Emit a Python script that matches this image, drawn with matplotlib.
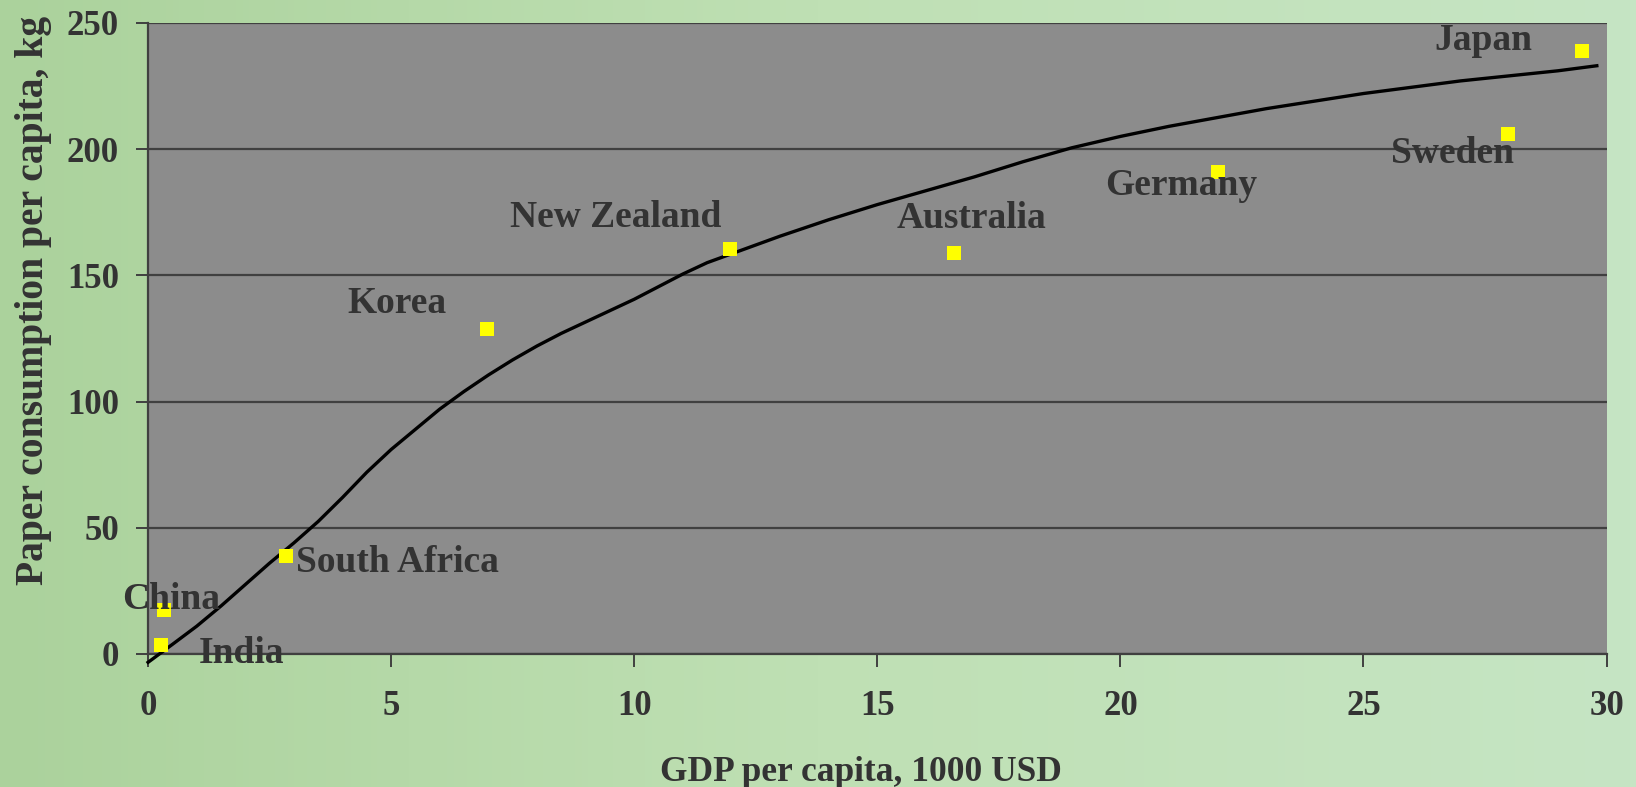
import numpy as np
import matplotlib.pyplot as plt
from matplotlib.colors import LinearSegmentedColormap

# country points: GDP per capita (1000 USD), paper consumption (kg)
countries = ["China", "India", "South Africa", "Korea", "New Zealand",
             "Australia", "Germany", "Sweden", "Japan"]
gdp = [0.32, 0.26, 2.83, 6.97, 11.97, 16.57, 22.0, 27.98, 29.49]
paper = [17.4, 3.7, 38.8, 128.9, 160.3, 158.7, 190.9, 205.8, 238.8]

# trend curve
trend_x = [0.0, 0.5, 1.0, 1.5, 2.0, 2.5, 3.0, 3.5, 4.0, 4.5, 5.0, 5.5, 6.0,
           6.5, 7.0, 7.5, 8.0, 8.5, 9.0, 9.5, 10.0, 10.5, 11.0, 11.5, 12.0,
           13.0, 14.0, 15.0, 16.0, 17.0, 18.0, 19.0, 20.0, 21.0, 22.0, 23.0,
           24.0, 25.0, 26.0, 27.0, 28.0, 29.0, 29.8]
trend_y = [-3.3, 3.8, 11.0, 19.0, 27.5, 36.0, 44.0, 52.5, 62.0, 72.0, 81.0,
           89.0, 97.0, 104.0, 110.5, 116.5, 122.0, 127.0, 131.5, 136.0, 140.5,
           145.5, 150.5, 155.0, 158.5, 165.5, 172.0, 178.0, 183.5, 189.0,
           195.0, 200.5, 205.0, 209.0, 212.5, 216.0, 219.0, 222.0, 224.5,
           227.0, 229.0, 231.0, 233.0]

# label offsets in pixels (text anchor relative to the point)
label_dx = [8, 38, 10, -40, -9, 18, -36, -56, -98]
label_dy = [11, -9, -6, 25, 32, 35, -13, -19, 11]
label_ha = ["center", "left", "left", "right", "right", "center", "center", "center", "center"]

txt = "#333333"
plt.rcParams['font.family'] = 'Liberation Serif'
plt.rcParams['font.weight'] = 'bold'

fig = plt.figure(figsize=(16.36, 7.87), dpi=100)

# soft green backdrop
bg = fig.add_axes([0, 0, 1, 1], zorder=-10)
green = LinearSegmentedColormap.from_list("g", ["#abd29c", "#bfe0b4", "#c6e5c4"])
bg.imshow(np.linspace(0, 1, 256)[None, :], cmap=green, aspect="auto",
          extent=[0, 1, 0, 1])
bg.set_axis_off()

ax = fig.add_axes([0.0905, 0.169, 0.8915, 0.802])
ax.set_facecolor("#8c8c8c")

ax.plot(trend_x, trend_y, color="black", linewidth=2.4, clip_on=False, zorder=3)
ax.plot(gdp, paper, linestyle="none", marker="s", markersize=9.5,
        color="#ffff00", markeredgewidth=0, zorder=4)

for name, x, y, dx, dy, ha in zip(countries, gdp, paper, label_dx, label_dy, label_ha):
    ax.annotate(name, (x, y), xytext=(dx, dy), textcoords="offset pixels",
                ha=ha, va="center", fontsize=27, fontweight="bold", color=txt,
                zorder=5, annotation_clip=False)

ax.set_xlim(0, 30)
ax.set_ylim(0, 250)
ax.set_xticks(np.arange(0, 31, 5))
ax.set_yticks(np.arange(0, 251, 50))
ax.yaxis.grid(True, color="#404040", linewidth=1.6)
ax.set_axisbelow(True)
for s in ["top", "right"]:
    ax.spines[s].set_visible(False)
for s in ["left", "bottom"]:
    ax.spines[s].set_color("#404040")
    ax.spines[s].set_linewidth(1.6)

ax.tick_params(axis="x", direction="out", length=9, width=1.4, color="#404040",
               labelsize=25, labelcolor=txt, pad=17)
ax.tick_params(axis="y", direction="out", length=9, width=1.4, color="#404040",
               labelsize=25, labelcolor=txt, pad=12)

ax.set_xlabel("GDP per capita, 1000 USD", fontsize=25.5, fontweight="bold", color=txt)
ax.set_ylabel("Paper consumption per capita, kg", fontsize=28.5, fontweight="bold", color=txt)
ax.xaxis.set_label_coords(0.489, -0.162)
ax.yaxis.set_label_coords(-0.066, 0.56)

fig.savefig("out.png", dpi=100)
